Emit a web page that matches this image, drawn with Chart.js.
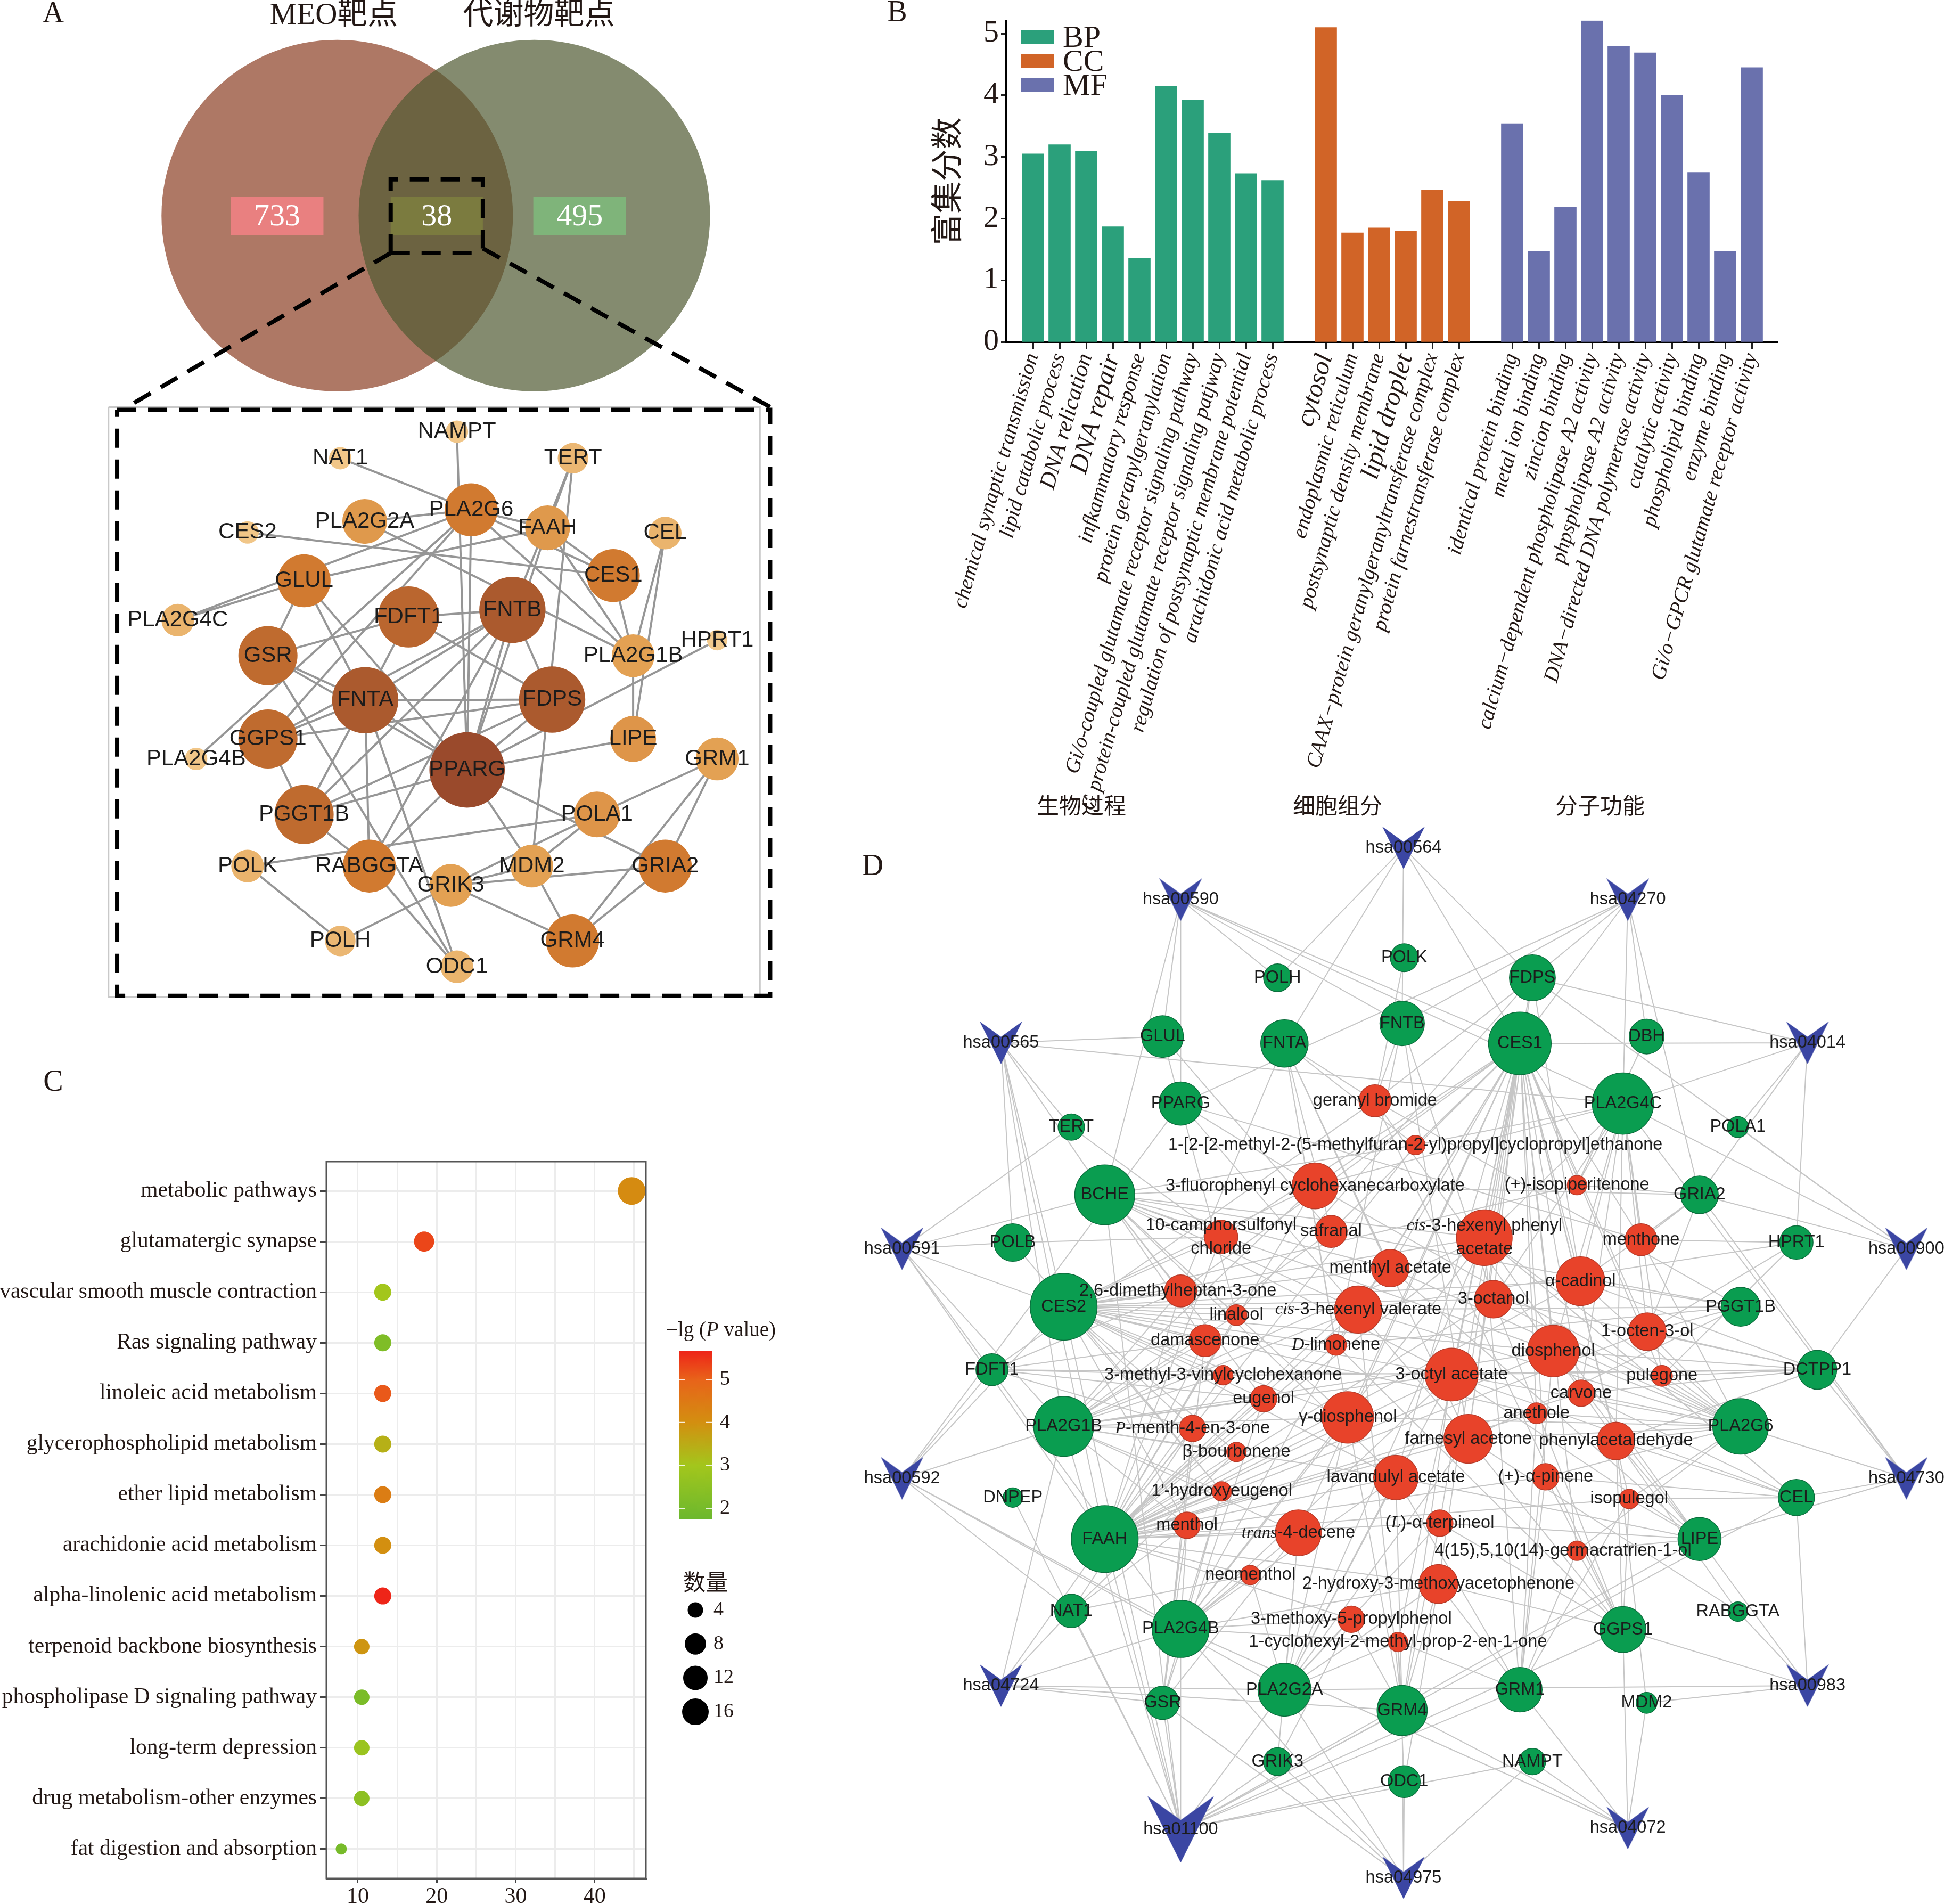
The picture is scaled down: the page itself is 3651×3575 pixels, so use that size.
<!DOCTYPE html>
<html>
<head>
<meta charset="utf-8">
<title>MEO network pharmacology figure</title>
<script src="https://cdn.jsdelivr.net/npm/chart.js@4/dist/chart.umd.min.js"></script>
<style>
  html, body { margin: 0; background: #fff; }
  #page { position: relative; width: 3651px; height: 3575px; overflow: hidden; }
  canvas { position: absolute; }
</style>
</head>
<body>
<div id="page">
  <canvas id="panelA" width="1500" height="1900" style="left:0;top:0"></canvas>
  <canvas id="panelB" width="1700" height="1560" style="left:1640px;top:0"></canvas>
  <canvas id="panelC" width="1500" height="1595" style="left:0;top:1980px"></canvas>
  <canvas id="panelD" width="2051" height="2035" style="left:1600px;top:1540px"></canvas>
</div>
<script>
// Panel A - venn counts and PPI network
const vennCounts = ["733", "38", "495"];
const ppiGenes = ["NAMPT","NAT1","TERT","PLA2G6","PLA2G2A","CES2","FAAH","CEL","CES1","GLUL","FDFT1","FNTB","PLA2G4C","GSR","PLA2G1B","HPRT1","FNTA","FDPS","GGPS1","LIPE","PLA2G4B","PPARG","GRM1","PGGT1B","POLA1","POLK","RABGGTA","GRIK3","MDM2","GRIA2","POLH","GRM4","ODC1"];
const ppiX = [897,668,1125,925,716,486,1075,1306,1204,597,802,1006,349,526,1243,1408,717,1084,526,1243,385,917,1408,597,1172,486,725,885,1044,1306,668,1124,897];
const ppiY = [669,710,710,790,808,825,818,826,892,900,956,945,961,1016,1016,992,1085,1084,1145,1145,1176,1193,1176,1262,1262,1342,1342,1372,1342,1342,1458,1458,1498];
const ppiDegree = [22,22,30,52,44,22,44,32,52,52,60,65,32,58,42,20,65,65,58,45,22,74,42,58,45,32,52,42,42,52,30,52,32];
const ppiLinks = [
  "NAT1 PLA2G6","NAMPT PPARG","TERT FAAH","TERT MDM2","TERT FNTB","PLA2G6 PLA2G2A","PLA2G6 FAAH","PLA2G6 CES1","PLA2G6 PLA2G4C","PLA2G6 GGPS1","PLA2G6 PLA2G1B","PLA2G6 PPARG",
  "PLA2G2A PLA2G1B","CES2 CES1","FAAH CES1","FAAH GLUL","FAAH PLA2G1B","FAAH PPARG","GLUL PLA2G4C","GLUL GSR","GLUL FNTA","GLUL PPARG","CEL PLA2G1B","CEL LIPE","CES1 PLA2G1B","PLA2G1B LIPE",
  "FDFT1 FNTB","FDFT1 GSR","FDFT1 FNTA","FDFT1 FDPS","FNTB FDPS","FNTB FNTA","FNTB GGPS1","FNTB PPARG","FNTB PGGT1B","FNTB RABGGTA","FNTA FDPS","FNTA GGPS1","FNTA PGGT1B","FNTA RABGGTA","FNTA PPARG","FNTA GSR","FNTA ODC1",
  "GSR PPARG","GSR ODC1","FDPS GGPS1","FDPS PPARG","FDPS PGGT1B","HPRT1 PPARG","LIPE PPARG","PLA2G4B PLA2G6","GGPS1 PGGT1B","PGGT1B RABGGTA","PGGT1B PPARG","RABGGTA PPARG","POLK POLA1","POLK POLH","POLH GRIK3",
  "GRIK3 POLA1","GRIK3 MDM2","GRIK3 GRIA2","GRIK3 GRM4","MDM2 POLA1","MDM2 PPARG","MDM2 GRM4","PPARG GRIA2","POLA1 GRM1","GRM1 GRIA2","GRM1 GRM4","GRIA2 GRM4","RABGGTA ODC1"
];

// Panel B - GO enrichment
const bpTerms = ["chemical synaptic transmission","lipid catabolic process","DNA relication","DNA repair","infkammatory response","protein geranylgeranylation","Gi/o-coupled glutamate receptor signaling pathway","G protein-coupled glutamate receptor signaling patjway","regulation of postsynaptic membrane potential","arachidonic acid metabolic process"];
const ccTerms = ["cytosol","endoplasmic reticulum","postsynaptic density membrane","lipid droplet","CAAX\u2212protein geranylgeranyltransferase complex","protein farnestransferase complex"];
const mfTerms = ["identical protein binding","metal ion binding","zincion binding","calcium\u2212dependent phospholipase A2 activity","phpspholipase A2 activity","DNA\u2212directed DNA polymerase activity","catalytic activity","phospholipid binding","enzyme binding","Gi/o\u2212GPCR glutamate receptor activity"];
const bpValues = [3.05,3.2,3.09,1.87,1.36,4.15,3.92,3.39,2.73,2.62];
const ccValues = [5.1,1.77,1.85,1.8,2.46,2.28];
const mfValues = [3.54,1.47,2.19,5.21,4.8,4.69,4.0,2.75,1.47,4.45];

// Panel C - KEGG enrichment
const keggPathways = ["metabolic pathways","glutamatergic synapse","vascular smooth muscle contraction","Ras signaling pathway","linoleic acid metabolism","glycerophospholipid metabolism","ether lipid metabolism","arachidonie acid metabolism","alpha-linolenic acid metabolism","terpenoid backbone biosynthesis","phospholipase D signaling pathway","long-term depression","drug metabolism-other enzymes","fat digestion and absorption"];
const keggPercent = [44.7,18.4,13.16,13.16,13.16,13.16,13.16,13.16,13.16,10.5,10.5,10.5,10.5,7.9];
const keggCount = [17,7,5,5,5,5,5,5,5,4,4,4,4,3];
const keggLogP = [4.1,5.3,3.0,2.2,5.1,3.4,4.4,4.0,5.65,3.9,2.1,2.8,2.5,2.0];
const sizeLegend = [4,8,12,16];

// Panel D - compound / target / pathway network
const pathwayNames = ["hsa00564","hsa00590","hsa04270","hsa00565","hsa04014","hsa00591","hsa00900","hsa00592","hsa04730","hsa04724","hsa00983","hsa04072","hsa04975","hsa01100"];
const pathwayX = [792,472,1114,214,1372,72,1514,72,1514,214,1372,1114,792,472];
const pathwayY = [40,115,115,322,322,620,620,952,952,1252,1252,1458,1530,1460];
const pathwayLinks = [
  "FNTA POLH FNTB FDPS CES1",
  "GLUL PPARG FNTB POLH PLA2G4C BCHE CES1",
  "FDPS CES1 PLA2G4C DBH GRIA2 FNTB PPARG",
  "BCHE POLB CES2 PLA2G1B FAAH PLA2G4C GLUL TERT",
  "PLA2G4C GRIA2 POLA1 FDPS CES1 HPRT1",
  "POLB CES2 PLA2G1B PLA2G4B FAAH BCHE TERT",
  "PLA2G4C POLA1 GRIA2 DCTPP1 FDPS",
  "PLA2G1B CES2 FDFT1 PLA2G4B PLA2G2A NAT1 PPARG",
  "GRIA2 DCTPP1 PLA2G6 CEL LIPE PLA2G4C",
  "GSR GRM4 PLA2G2A NAT1 PLA2G4B PLA2G1B FAAH",
  "GGPS1 MDM2 CEL RABGGTA LIPE PLA2G2A",
  "GRM1 GRM4 MDM2 GGPS1 PLA2G4B NAMPT",
  "PLA2G2A GRM4 ODC1 GRIK3 NAMPT GSR PLA2G4B",
  "FAAH PLA2G4B GSR PLA2G2A GRIK3 ODC1 NAMPT NAT1 GRM4 PLA2G1B BCHE LIPE GGPS1 CEL DNPEP CES2 GRM1"
];
const targetNames = ["POLH","POLK","FDPS","GLUL","FNTA","FNTB","CES1","DBH","PPARG","PLA2G4C","TERT","POLA1","BCHE","GRIA2","POLB","HPRT1","CES2","PGGT1B","FDFT1","DCTPP1","PLA2G1B","PLA2G6","DNPEP","CEL","FAAH","LIPE","NAT1","RABGGTA","PLA2G4B","GGPS1","GSR","PLA2G2A","GRM4","GRM1","MDM2","GRIK3","ODC1","NAMPT"];
const targetX = [611,793,977,446,621,790,959,1141,472,1107,315,1272,363,1217,231,1356,304,1276,201,1386,304,1276,231,1356,363,1217,315,1272,472,1107,446,621,790,959,1141,611,793,977];
const targetY = [228,199,228,313,323,294,323,313,410,410,444,444,542,542,611,611,704,704,795,795,877,877,980,980,1040,1040,1144,1145,1170,1171,1277,1258,1288,1258,1277,1362,1391,1362];
const targetSize = [20,20,33,30,34,32,45,25,31,44,19,15,43,27,27,24,48,28,23,28,43,40,14,26,48,31,24,14,41,33,24,38,36,32,15,20,23,19];
const compoundNames = ["geranyl bromide","1-[2-[2-methyl-2-(5-methylfuran-2-yl)propyl]cyclopropyl]ethanone","3-fluorophenyl cyclohexanecarboxylate","(+)-isopiperitenone","10-camphorsulfonyl\nchloride","safranal","*cis*-3-hexenyl phenyl\nacetate","menthone","menthyl acetate","\u03b1-cadinol","2,6-dimethylheptan-3-one","linalool","*cis*-3-hexenyl valerate","3-octanol","damascenone","*D*-limonene","1-octen-3-ol","diosphenol","3-methyl-3-vinylcyclohexanone","3-octyl acetate","pulegone","carvone","eugenol","anethole","\u03b3-diosphenol","*P*-menth-4-en-3-one","farnesyl acetone","phenylacetaldehyde","\u03b2-bourbonene","lavandulyl acetate","(+)-\u03b1-pinene","1'-hydroxyeugenol","isopulegol","menthol","*trans*-4-decene","(*L*)-\u03b1-terpineol","4(15),5,10(14)-germacratrien-1-ol","neomenthol","2-hydroxy-3-methoxyacetophenone","3-methoxy-5-propylphenol","1-cyclohexyl-2-methyl-prop-2-en-1-one"];
const compoundX = [751,809,665,1041,530,688,908,1133,773,1046,472,552,727,921,507,695,1142,1007,533,861,1163,1047,591,983,712,489,885,1097,552,781,996,531,1116,481,641,844,1041,572,842,717,784];
const compoundY = [406,470,529,528,603,595,604,607,648,667,681,716,708,693,753,759,740,768,803,802,804,829,837,858,864,880,895,898,914,951,950,971,982,1020,1031,1017,1057,1092,1105,1156,1189];
const compoundSize = [23,14,33,14,24,23,40,23,27,35,23,15,34,27,23,15,27,37,14,38,15,19,19,15,37,19,35,27,14,32,19,14,14,19,33,19,14,14,28,19,14];
const compoundLinks = [
  "FNTA FNTB FDPS PGGT1B RABGGTA POLK GGPS1 FDFT1",
  "CES1 PLA2G4C BCHE FAAH FNTA",
  "CES1 CES2 BCHE FAAH PLA2G4C PLA2G1B PLA2G6 GRIA2 PPARG",
  "CES1 PLA2G4C GRIA2 DBH CES2",
  "BCHE CES2 POLB FAAH CES1 TERT",
  "GLUL FNTA BCHE CES1 PLA2G1B PGGT1B",
  "CES1 CES2 BCHE FAAH PLA2G4C PLA2G4B PLA2G6 PLA2G2A PLA2G1B LIPE CEL GRM1 FDPS",
  "CES1 PLA2G4C GRIA2 PPARG HPRT1 PLA2G6",
  "CES1 CES2 BCHE FAAH PLA2G6 FNTA LIPE",
  "CES1 PLA2G4C PGGT1B DCTPP1 CES2 GRIA2 FDPS PLA2G6 FAAH",
  "CES2 PLA2G1B BCHE FAAH FDFT1 FNTA CES1",
  "CES2 BCHE FAAH PLA2G1B GLUL FDPS",
  "CES1 CES2 BCHE FAAH PLA2G4B PLA2G6 PLA2G1B PGGT1B GRM4 HPRT1",
  "CES1 CES2 PLA2G4C FAAH FNTB GGPS1 PLA2G6 DCTPP1",
  "CES2 BCHE FDFT1 PLA2G1B FAAH GSR",
  "CES2 CES1 FNTA FNTB FAAH PGGT1B GGPS1",
  "PLA2G4C CES1 PGGT1B PLA2G6 FAAH GRIA2 DCTPP1 HPRT1",
  "CES1 CES2 PLA2G4C PLA2G6 FAAH BCHE PLA2G1B DCTPP1 GRM1 LIPE",
  "CES2 FDFT1 FAAH PLA2G1B DCTPP1",
  "CES1 CES2 BCHE FAAH PLA2G1B PLA2G6 PLA2G4B PLA2G2A LIPE CEL DCTPP1 FDFT1 GRM4",
  "PLA2G6 CES1 PLA2G4C DCTPP1 HPRT1",
  "CES1 PLA2G6 PLA2G4C FAAH CEL DCTPP1",
  "CES2 PLA2G1B FAAH BCHE FDFT1 GSR",
  "CES1 FAAH PLA2G6 GRM1 CES2",
  "CES1 CES2 FAAH PLA2G1B PLA2G4B PLA2G2A BCHE GRM4 PLA2G6 FNTA",
  "CES2 PLA2G1B FAAH FDFT1 GSR NAT1",
  "FNTA FNTB FDPS GGPS1 PGGT1B RABGGTA PLA2G6 PLA2G2A CES1 FAAH PPARG",
  "PLA2G6 CEL LIPE GGPS1 CES1 PLA2G4C DCTPP1 MDM2",
  "FAAH PLA2G1B CES2 NAT1",
  "CES1 CES2 FAAH PLA2G4B PLA2G2A GRM4 BCHE PLA2G1B LIPE GRM1",
  "PLA2G6 CEL GGPS1 FAAH GRM1 CES1",
  "FAAH PLA2G1B PLA2G4B GSR CES2 POLB",
  "PLA2G6 CEL LIPE GGPS1 FAAH GRM1 CES1",
  "FAAH PLA2G1B PLA2G4B CES2 NAT1 GSR",
  "FAAH PLA2G4B PLA2G1B PLA2G2A CES1 GRIK3 GSR",
  "GRM4 GGPS1 CES1 PLA2G2A FAAH LIPE",
  "LIPE PLA2G6 GRM1 GGPS1 CES1",
  "FAAH PLA2G4B PLA2G2A NAT1",
  "GRM4 GRM1 PLA2G2A PLA2G4B FAAH ODC1 GGPS1 CES1",
  "PLA2G2A GRM4 PLA2G4B FAAH GRIK3",
  "GRM4 PLA2G2A GRM1 ODC1 CES1 PLA2G4B"
];

const SERIF = '"Liberation Serif","Noto Sans CJK SC"';
const SANS = '"Liberation Sans",Arial,sans-serif';
const INK = "#231815";

Chart.defaults.animation = false;
Chart.defaults.responsive = false;
Chart.defaults.devicePixelRatio = 1;
Chart.defaults.events = [];
Chart.defaults.layout.autoPadding = false;
Chart.defaults.plugins.legend.display = false;
Chart.defaults.plugins.tooltip.enabled = false;

// *word* in a label is set in serif italic
function drawRich(ctx, text, x, y, size, family, color, align) {
  const parts = text.split("*");
  const fonts = parts.map((p, i) => (i % 2 ? `italic ${size}px "Liberation Serif"` : `${size}px ${family}`));
  let total = 0;
  const widths = parts.map((p, i) => {
    ctx.font = fonts[i];
    const w = ctx.measureText(p).width;
    total += w;
    return w;
  });
  let cx = align === "left" ? x : x - total / 2;
  ctx.textAlign = "left";
  ctx.textBaseline = "middle";
  ctx.fillStyle = color;
  parts.forEach((p, i) => {
    ctx.font = fonts[i];
    ctx.fillText(p, cx, y);
    cx += widths[i];
  });
}

// free text placed in canvas pixels: panel letters, group captions...
const notesPlugin = {
  id: "notes",
  afterDraw(chart, args, opts) {
    const ctx = chart.ctx;
    ctx.save();
    (opts.items || []).forEach(n => drawRich(ctx, n.text, n.x, n.y, n.size, n.family || SERIF, n.color || INK, n.align));
    ctx.restore();
  },
};
Chart.register(notesPlugin);

// labels centred on network nodes, through the chart scales
function nodeLabels(id, items, size, lineGap) {
  return {
    id,
    afterDatasetsDraw(chart) {
      const ctx = chart.ctx;
      const sx = chart.scales.x, sy = chart.scales.y;
      ctx.save();
      items.forEach(n => {
        const lines = n.label.split("\n");
        lines.forEach((line, i) => {
          const yy = sy.getPixelForValue(n.y) + (i - (lines.length - 1) / 2) * lineGap;
          drawRich(ctx, line, sx.getPixelForValue(n.x + (n.dx || 0)), yy, size, SANS, "#1c1c1c");
        });
      });
      ctx.restore();
    },
  };
}

const hiddenAxes = () => ({
  x: { type: "linear", display: false, min: 0, max: 1568 },
  y: { type: "linear", display: false, min: 0, max: 1568, reverse: true },
});

// Panel A ------------------------------------------------------------------
const degreeStops = [[20,[242,202,141]],[42,[227,161,83]],[52,[209,122,48]],[65,[171,90,46]],[74,[154,74,44]]];
function degreeColor(d) {
  for (let i = 1; i < degreeStops.length; i++) {
    if (d <= degreeStops[i][0]) {
      const [a, ca] = degreeStops[i - 1], [b, cb] = degreeStops[i];
      const t = Math.max(0, (d - a) / (b - a));
      return `rgb(${ca.map((c, k) => Math.round(c + (cb[k] - c) * t)).join(",")})`;
    }
  }
  return "rgb(154,74,44)";
}

const ppiPoints = ppiGenes.map((g, i) => ({ x: ppiX[i], y: ppiY[i] }));
const ppiEdgePts = [];
ppiLinks.forEach(l => {
  const [a, b] = l.split(" ").map(n => ppiGenes.indexOf(n));
  ppiEdgePts.push(ppiPoints[a], ppiPoints[b], { x: NaN, y: NaN });
});

const vennRects = {
  id: "vennRects",
  afterDatasetDraw(chart, args) {
    if (args.index !== 0) return;
    const ctx = chart.ctx, sx = chart.scales.x, sy = chart.scales.y;
    const boxes = [[453,635,"#e98080"],[767,948,"#7b7b3f"],[1047,1229,"#7fb47a"]];
    ctx.save();
    boxes.forEach((b, i) => {
      const x0 = sx.getPixelForValue(b[0]), x1 = sx.getPixelForValue(b[1]);
      const y0 = sy.getPixelForValue(305), y1 = sy.getPixelForValue(364);
      ctx.fillStyle = b[2];
      ctx.fillRect(x0, y0, x1 - x0, y1 - y0);
      drawRich(ctx, vennCounts[i], (x0 + x1) / 2, (y0 + y1) / 2 + 2, 58, SERIF, "#ffffff");
    });
    ctx.restore();
  },
};

const dashStyle = { type: "scatter", showLine: true, pointRadius: 0, borderColor: "#000", borderWidth: 8, borderDash: [36, 22], tension: 0, fill: false };

new Chart(document.getElementById("panelA"), {
  type: "scatter",
  data: {
    datasets: [
      { type: "bubble", order: 9, data: [{ x: 662, y: 334, r: 330 }, { x: 1049, y: 334, r: 330 }], backgroundColor: ["rgba(139,62,35,0.7)", "rgba(80,90,50,0.7)"], borderWidth: 0 },
      { order: 6, showLine: true, pointRadius: 0, borderColor: "#c9c9c9", borderWidth: 3, data: [{x:213,y:631},{x:1492,y:631},{x:1492,y:1545},{x:213,y:1545},{x:213,y:631}] },
      { ...dashStyle, order: 5, data: [{x:767,y:392},{x:767,y:278},{x:948,y:278},{x:948,y:385}] },
      { ...dashStyle, order: 5, data: [{x:767,y:392},{x:948,y:392}] },
      { ...dashStyle, order: 5, data: [{x:767,y:392},{x:255,y:628}] },
      { ...dashStyle, order: 5, data: [{x:948,y:385},{x:1515,y:632}] },
      { ...dashStyle, order: 5, data: [{x:230,y:635},{x:1512,y:635},{x:1512,y:1543},{x:230,y:1543},{x:230,y:635}] },
      { order: 3, showLine: true, pointRadius: 0, borderColor: "rgba(80,80,80,0.6)", borderWidth: 4, spanGaps: false, data: ppiEdgePts },
      { order: 1, data: ppiPoints, pointRadius: ppiDegree.map(d => d / 1.045), pointBackgroundColor: ppiDegree.map(degreeColor), pointBorderWidth: 0 },
    ],
  },
  options: {
    scales: hiddenAxes(),
    plugins: {
      notes: { items: [
        { text: "A", x: 100, y: 27, size: 56 },
        { text: "MEO\u9776\u70b9", x: 627, y: 30, size: 57 },
        { text: "\u4ee3\u8c22\u7269\u9776\u70b9", x: 1012, y: 30, size: 57 },
      ] },
    },
  },
  plugins: [vennRects, nodeLabels("ppiLabels", ppiGenes.map((g, i) => ({ label: g, x: ppiX[i], y: ppiY[i] })), 42, 0)],
});

// Panel B ------------------------------------------------------------------
const goLabels = ["", ...bpTerms, "", ...ccTerms, "", ...mfTerms, ""];
const goBlank = i => goLabels[i] === "";
const bpData = [null, ...bpValues, ...Array(19).fill(null)];
const ccData = [...Array(12).fill(null), ...ccValues, ...Array(12).fill(null)];
const mfData = [...Array(19).fill(null), ...mfValues, null];
const bigTerms = ["cytosol", "DNA repair", "lipid droplet"];

const goLegend = {
  id: "goLegend",
  afterDatasetsDraw(chart) {
    const ctx = chart.ctx;
    ctx.save();
    chart.data.datasets.forEach((ds, i) => {
      const y = 71 + i * 45;
      ctx.fillStyle = ds.backgroundColor;
      ctx.fillRect(278, y - 14, 62, 26);
      drawRich(ctx, ds.label, 356, y + 2, 58, SERIF, INK, "left");
    });
    ctx.restore();
  },
};

new Chart(document.getElementById("panelB"), {
  type: "bar",
  data: {
    labels: goLabels,
    datasets: [
      { label: "BP", data: bpData, backgroundColor: "#2ba07b" },
      { label: "CC", data: ccData, backgroundColor: "#d16427" },
      { label: "MF", data: mfData, backgroundColor: "#6a71ad" },
    ],
  },
  options: {
    layout: { padding: { top: 30 } },
    datasets: { bar: { barThickness: 41, grouped: false } },
    scales: {
      x: {
        offset: false,
        afterFit(s) { s.height = 918; s.paddingLeft = 0; s.paddingRight = 0; },
        grid: { offset: false, drawOnChartArea: false, tickLength: 14, tickWidth: 3, tickColor: c => (goBlank(c.index) ? "transparent" : "#222") },
        border: { color: "#000", width: 4 },
        ticks: {
          autoSkip: false, minRotation: 74, maxRotation: 74, padding: 2, color: INK,
          font: c => {
            const t = goLabels[c.index];
            if (bigTerms.includes(t)) return { family: SERIF, style: "italic", size: 49 };
            return { family: SERIF, style: "italic", size: t === "DNA relication" ? 43 : 39.5 };
          },
        },
      },
      y: {
        min: 0, max: 5.21,
        afterFit(s) { s.width = 250; },
        grid: { drawOnChartArea: false, tickLength: 10, tickWidth: 3, tickColor: "#222" },
        border: { color: "#000", width: 4 },
        title: { display: true, text: "\u5bcc\u96c6\u5206\u6570", color: INK, font: { family: SERIF, size: 60 }, padding: { top: 108, bottom: 0 } },
        ticks: { stepSize: 1, includeBounds: false, color: INK, padding: 4, font: { family: SERIF, size: 58 } },
      },
    },
    plugins: {
      notes: { items: [
        { text: "B", x: 45, y: 25, size: 56 },
        { text: "\u751f\u7269\u8fc7\u7a0b", x: 391, y: 1517, size: 42 },
        { text: "\u7ec6\u80de\u7ec4\u5206", x: 872, y: 1517, size: 42 },
        { text: "\u5206\u5b50\u529f\u80fd", x: 1365, y: 1517, size: 42 },
      ] },
    },
  },
  plugins: [goLegend],
});

// Panel C ------------------------------------------------------------------
const logPStops = [[1.74,[107,184,46]],[3,[163,198,28]],[4,[211,143,16]],[5,[232,99,26]],[5.66,[238,36,24]]];
function logPColor(v) {
  for (let i = 1; i < logPStops.length; i++) {
    if (v <= logPStops[i][0]) {
      const [a, ca] = logPStops[i - 1], [b, cb] = logPStops[i];
      const t = Math.max(0, (v - a) / (b - a));
      return `rgb(${ca.map((c, k) => Math.round(c + (cb[k] - c) * t)).join(",")})`;
    }
  }
  return "rgb(238,36,24)";
}
const countRadius = { 3: 10.5, 4: 14.5, 5: 16, 7: 19, 8: 20, 12: 23, 16: 25, 17: 26 };

const keggExtras = {
  id: "keggExtras",
  afterDraw(chart) {
    const ctx = chart.ctx, a = chart.chartArea;
    ctx.save();
    ctx.strokeStyle = "#555";
    ctx.lineWidth = 3;
    ctx.strokeRect(a.left, a.top, a.width, a.height);
    // colour bar
    const x0 = 1275, x1 = 1338, yTop = 557, yBottom = 873;
    const valueY = v => 610 + (5 - v) * 80.67;
    const g = ctx.createLinearGradient(0, yBottom, 0, yTop);
    logPStops.forEach(s => g.addColorStop((s[0] - 1.74) / (5.66 - 1.74), `rgb(${s[1].join(",")})`));
    ctx.fillStyle = g;
    ctx.fillRect(x0, yTop, x1 - x0, yBottom - yTop);
    [2, 3, 4, 5].forEach(v => {
      const y = valueY(v);
      ctx.strokeStyle = "rgba(255,255,255,0.85)";
      ctx.lineWidth = 2;
      ctx.beginPath();
      ctx.moveTo(x0, y); ctx.lineTo(x0 + 12, y);
      ctx.moveTo(x1 - 12, y); ctx.lineTo(x1, y);
      ctx.stroke();
      drawRich(ctx, String(v), 1352, y, 38, SERIF, INK, "left");
    });
    // size legend
    sizeLegend.forEach((c, i) => {
      const y = 1043 + i * 63.7;
      ctx.fillStyle = "#000";
      ctx.beginPath();
      ctx.arc(1306, y, countRadius[c], 0, Math.PI * 2);
      ctx.fill();
      drawRich(ctx, String(c), 1340, y, 38, SERIF, INK, "left");
    });
    ctx.restore();
  },
};

new Chart(document.getElementById("panelC"), {
  type: "bubble",
  data: {
    datasets: [{
      data: keggPathways.map((p, i) => ({ x: keggPercent[i], y: i, r: countRadius[keggCount[i]] })),
      backgroundColor: keggLogP.map(logPColor),
      borderWidth: 0,
      clip: false,
    }],
  },
  options: {
    layout: { padding: { top: 201, right: 287 } },
    scales: {
      x: {
        type: "linear", min: 6.02, max: 46.5, position: "bottom",
        afterFit(s) { s.height = 48; },
        grid: { color: "#ececec", lineWidth: 3, tickLength: 8, tickWidth: 3, tickColor: c => (c.tick && c.tick.value % 10 === 0 ? "#444" : "transparent") },
        border: { color: "#555", width: 3 },
        ticks: { stepSize: 5, includeBounds: false, padding: 2, color: INK, maxRotation: 0, font: { family: SERIF, size: 42 }, callback: v => (v % 10 === 0 ? v : "") },
      },
      y: {
        type: "linear", min: -0.58, max: 13.58, reverse: true,
        afterFit(s) { s.width = 613; },
        grid: { color: "#ececec", lineWidth: 3, tickLength: 12, tickWidth: 3, tickColor: "#444" },
        border: { color: "#555", width: 3 },
        ticks: { stepSize: 1, includeBounds: false, padding: 6, color: INK, autoSkip: false, font: { family: SERIF, size: 41.5 }, callback: v => keggPathways[v] },
      },
    },
    plugins: {
      notes: { items: [
        { text: "C", x: 100, y: 53, size: 56 },
        { text: "\u2212lg (*P* value)", x: 1354, y: 519, size: 39 },
        { text: "\u6570\u91cf", x: 1325, y: 995, size: 42 },
      ] },
    },
  },
  plugins: [keggExtras],
});

// Panel D ------------------------------------------------------------------
function makeChevron(size) {
  const c = document.createElement("canvas");
  c.width = c.height = size;
  const g = c.getContext("2d");
  g.fillStyle = "#3b46a3";
  g.beginPath();
  g.moveTo(0, 0);
  g.lineTo(size / 2, size * 0.36);
  g.lineTo(size, 0);
  g.lineTo(size / 2, size);
  g.closePath();
  g.fill();
  return c;
}

const targetPoints = targetNames.map((t, i) => ({ x: targetX[i], y: targetY[i] }));
const compoundPoints = compoundNames.map((t, i) => ({ x: compoundX[i], y: compoundY[i] }));
const pathwayPoints = pathwayNames.map((t, i) => ({ x: pathwayX[i], y: pathwayY[i] }));
const netEdgePts = [];
function addEdges(points, links) {
  links.forEach((list, i) => {
    list.split(" ").forEach(t => {
      netEdgePts.push(points[i], targetPoints[targetNames.indexOf(t)], { x: NaN, y: NaN });
    });
  });
}
addEdges(pathwayPoints, pathwayLinks);
addEdges(compoundPoints, compoundLinks);

const netLabels = [
  ...pathwayNames.map((n, i) => ({ label: n, x: pathwayX[i], y: pathwayY[i] })),
  ...targetNames.map((n, i) => ({ label: n, x: targetX[i], y: targetY[i] })),
  ...compoundNames.map((n, i) => ({ label: n, x: compoundX[i], y: compoundY[i], dx: n.startsWith("4(15)") ? -20 : n.startsWith("2,6") ? -4 : 0 })),
];

new Chart(document.getElementById("panelD"), {
  type: "scatter",
  data: {
    datasets: [
      { order: 5, showLine: true, pointRadius: 0, borderColor: "#c6c6c6", borderWidth: 2, spanGaps: false, data: netEdgePts },
      { order: 3, data: targetPoints, pointRadius: targetSize.map(r => r / 0.7645), pointBackgroundColor: "#0a9d50", pointBorderColor: "#0b6e3c", pointBorderWidth: 1.5 },
      { order: 2, data: compoundPoints, pointRadius: compoundSize.map(r => r / 0.7645), pointBackgroundColor: "#e8432a", pointBorderColor: "#b83a28", pointBorderWidth: 1.5 },
      { order: 1, data: pathwayPoints.slice(0, 13), pointRadius: 10, pointStyle: makeChevron(80), pointBorderWidth: 0 },
      { order: 1, data: pathwayPoints.slice(13), pointRadius: 10, pointStyle: makeChevron(125), pointBorderWidth: 0 },
    ],
  },
  options: {
    scales: hiddenAxes(),
    plugins: { notes: { items: [{ text: "D", x: 39, y: 88, size: 56 }] } },
  },
  plugins: [nodeLabels("netLabels", netLabels, 32.5, 44)],
});
</script>
</body>
</html>
